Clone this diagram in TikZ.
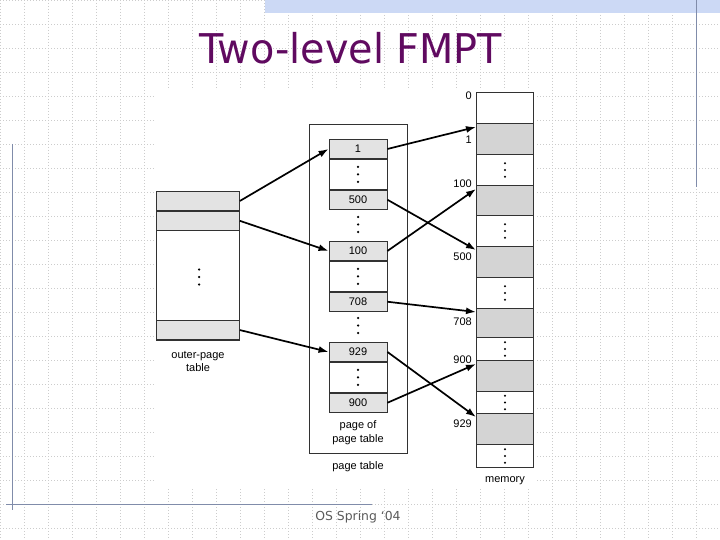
\documentclass[tikz,border=0pt]{standalone}
\usepackage{fontspec}
\usepackage{tikz}
\usetikzlibrary{positioning, arrows.meta}
\newfontfamily\figfont{Liberation Sans}
\newfontfamily\slidefont{DejaVu Sans}
\definecolor{titlepurple}{RGB}{96,10,96}
\definecolor{bandblue}{RGB}{204,217,245}
\definecolor{rulegray}{RGB}{128,140,170}
\definecolor{footgray}{RGB}{90,90,90}
\definecolor{entrygray}{RGB}{227,227,227}
\definecolor{memgray}{RGB}{212,212,212}
\definecolor{edgegray}{RGB}{50,50,50}

\begin{document}
\begin{tikzpicture}[
    x=1pt, y=-1pt,
    tablebox/.style={draw=edgegray, line width=0.9pt, fill=white, inner sep=0pt, anchor=north west},
    entry/.style={draw=edgegray, line width=0.9pt, fill=entrygray, inner sep=0pt,
                  minimum width=58pt, minimum height=19pt, font=\figfont\fontsize{11}{13}\selectfont},
    gap/.style={entry, fill=white, minimum height=30pt},
    memcell/.style={draw=edgegray, line width=0.9pt, inner sep=0pt, minimum width=57pt, anchor=north west},
    caption/.style={font=\figfont\fontsize{11}{13.5}\selectfont, align=center, inner sep=0pt},
    addr/.style={font=\figfont\fontsize{11}{13}\selectfont, anchor=east, inner sep=0pt},
    gridline/.style={gray!40, line width=0.6pt, dash pattern=on 1pt off 2pt},
    arrow/.style={-{Latex[length=10pt,width=7pt]}, line width=1.7pt},
    threedots/.pic={\foreach \k in {-1,0,1} \fill (0,\k*7.5) circle (1.25);}
]
\useasboundingbox (0,0) rectangle (720,540);

% slide background
\foreach \gx in {0,24,...,720} \draw[gridline] (\gx,0) -- (\gx,540);
\foreach \gy in {0,24,...,540} \draw[gridline] (0,\gy) -- (720,\gy);
\fill[white] (155,90) rectangle (536,487);
\fill[bandblue] (265,0) rectangle (720,13);
\draw[rulegray, line width=1.2pt] (696.5,0) -- (696.5,187);
\draw[rulegray, line width=1.2pt] (12.3,144) -- (12.3,510);
\draw[rulegray, line width=1.2pt] (6,504.5) -- (372,504.5);

\node[font=\slidefont\fontsize{41}{48}\selectfont, text=titlepurple, anchor=base, xscale=0.97] (title) at (351,64) {Two-level FMPT};
\node[font=\slidefont\fontsize{12.4}{15}\selectfont, text=footgray] (footer) at (358,517) {OS Spring ‘04};

% outer-page table
\node[tablebox, minimum width=83pt, minimum height=149pt] (outer) at (156,191) {};
\node[entry, minimum width=83pt, anchor=north west] (o1) at (156,191) {};
\node[entry, minimum width=83pt, below=0pt of o1] (o2) {};
\node[entry, minimum width=83pt, anchor=south west] (on) at (156,340) {};
\pic at (199,277) {threedots};
\node[caption] (outerlbl) at (198,361.5) {outer-page\\table};

% page table
\node[tablebox, minimum width=98pt, minimum height=329pt] (ptable) at (309,124) {};
\node[entry, anchor=north] (e1) at (358,139) {1};
\node[gap, below=0pt of e1] (g1) {};
\node[entry, below=0pt of g1] (e500) {500};
\node[entry, anchor=north] (e100) at (358,241) {100};
\node[gap, below=0pt of e100] (g2) {};
\node[entry, below=0pt of g2] (e708) {708};
\node[entry, anchor=north] (e929) at (358,342) {929};
\node[gap, below=0pt of e929] (g3) {};
\node[entry, below=0pt of g3] (e900) {900};
\foreach \g in {g1,g2,g3} \pic at (\g) {threedots};
\pic at (358,224.5) {threedots};
\pic at (358,325.5) {threedots};
\node[caption] (pagelbl) at (358,432.5) {page of\\page table};
\node[caption] (ptlbl) at (358,467) {page table};

% memory
\foreach \name/\top/\h/\col in {m0/92/31/white, m1/123/31/memgray, d1/154/31/white,
    m100/185/30/memgray, d2/215/31/white, m500/246/31/memgray, d3/277/31/white,
    m708/308/29/memgray, d4/337/23/white, m900/360/31/memgray, d5/391/22/white,
    m929/413/31/memgray, d6/444/23/white}
  \node[memcell, fill=\col, minimum height=\h pt] (\name) at (476,\top) {};
\foreach \g in {d1,d2,d3,d4,d5,d6} \pic[scale=0.9] at (\g) {threedots};
\foreach \v/\y in {0/96,1/140,100/184,500/257,708/322,900/360,929/424}
  \node[addr] (a\v) at (472,\y) {\v};
\node[caption] (memlbl) at (505,481) {memory};

% outer-page table -> page of page table
\draw[arrow] (o1.east) -- (e1.west);
\draw[arrow] (o2.east) -- (e100.west);
\draw[arrow] (on.east) -- (e929.west);

% page of page table -> memory
\draw[arrow] (e1.east) -- ([yshift=-4pt]m1.north west);
\draw[arrow] (e500.east) -- ([yshift=-4pt]m500.north west);
\draw[arrow] (e100.east) -- ([yshift=-4pt]m100.north west);
\draw[arrow] (e708.east) -- ([yshift=-4pt]m708.north west);
\draw[arrow] (e929.east) -- ([yshift=-4pt]m929.north west);
\draw[arrow] (e900.east) -- ([yshift=-4pt]m900.north west);
\end{tikzpicture}
\end{document}
